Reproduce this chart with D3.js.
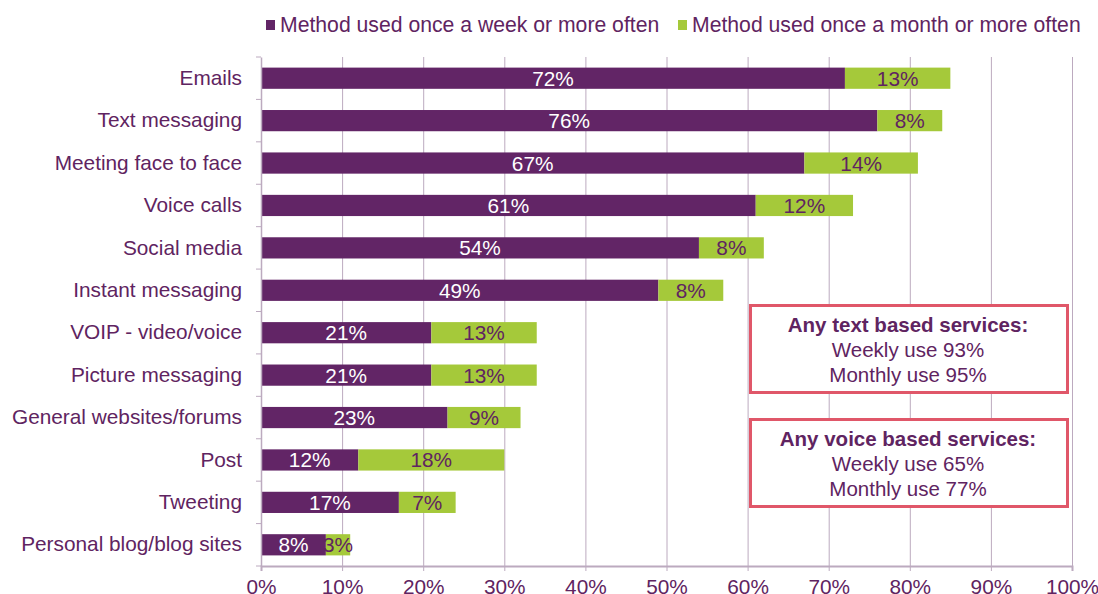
<!DOCTYPE html>
<html><head><meta charset="utf-8">
<script src="https://cdn.jsdelivr.net/npm/d3@7"></script>
<style>body{margin:0;background:#fff;} svg{display:block;font-family:"Liberation Sans",Arial,sans-serif;}</style>
</head><body><svg id="c" width="1098" height="594"></svg>
<script>
const categories = ["Emails","Text messaging","Meeting face to face","Voice calls","Social media","Instant messaging","VOIP - video/voice","Picture messaging","General websites/forums","Post","Tweeting","Personal blog/blog sites"];
const weekly = [72,76,67,61,54,49,21,21,23,12,17,8];
const monthly = [13,8,14,12,8,8,13,13,9,18,7,3];
const seriesNames = ["Method used once a week or more often","Method used once a month or more often"];
const xTicks = [0,10,20,30,40,50,60,70,80,90,100];
const boxes = [
  {title:"Any text based services:", lines:["Weekly use 93%","Monthly use 95%"]},
  {title:"Any voice based services:", lines:["Weekly use 65%","Monthly use 77%"]}
];

const purple="#622566", green="#a5c93a", textCol="#5f2461", gridCol="#bcaabf";
const FS=20.8;
const svg=d3.select("#c");
const L=261,R=1072,T=57,B=566;
const x=d3.scaleLinear().domain([0,100]).range([L,R]);
const y=d3.scaleBand().domain(categories).range([T,B]).paddingInner(0.5).paddingOuter(0.25);

// grid
svg.append("g").selectAll("line").data(xTicks.slice(1)).join("line")
  .attr("x1",d=>x(d)+0.5).attr("x2",d=>x(d)+0.5).attr("y1",T).attr("y2",B)
  .attr("stroke",gridCol).attr("stroke-width",1);

// bars
const g=svg.append("g");
categories.forEach((c,i)=>{
  g.append("rect").attr("x",x(0)).attr("y",y(c)).attr("width",x(weekly[i])-x(0)).attr("height",y.bandwidth()).attr("fill",purple);
  g.append("rect").attr("x",x(weekly[i])).attr("y",y(c)).attr("width",x(weekly[i]+monthly[i])-x(weekly[i])).attr("height",y.bandwidth()).attr("fill",green);
  g.append("text").attr("x",(x(0)+x(weekly[i]))/2).attr("y",y(c)+y.bandwidth()/2).attr("dy","0.36em")
    .attr("text-anchor","middle").attr("fill","#fff").attr("font-size",FS).text(weekly[i]+"%");
  g.append("text").attr("x",(x(weekly[i])+x(weekly[i]+monthly[i]))/2).attr("y",y(c)+y.bandwidth()/2).attr("dy","0.36em")
    .attr("text-anchor","middle").attr("fill",textCol).attr("font-size",FS).text(monthly[i]+"%");
});

// x axis
const xa=svg.append("g").attr("transform",`translate(0,${B})`).call(d3.axisBottom(x).tickValues(xTicks).tickFormat(d=>d+"%").tickSize(5));
xa.select(".domain").attr("stroke",gridCol).attr("stroke-width",2);
xa.selectAll(".tick line").attr("stroke",gridCol);
xa.selectAll(".tick text").attr("fill",textCol).attr("font-size",FS).attr("font-family","Liberation Sans, Arial, sans-serif").attr("y",13);

// y axis
const ya=svg.append("g").attr("transform",`translate(${L},0)`).call(d3.axisLeft(y).tickSize(0).tickPadding(19));
ya.select(".domain").attr("stroke",gridCol).attr("stroke-width",1.5);
ya.selectAll(".tick text").attr("fill",textCol).attr("font-size",FS).attr("font-family","Liberation Sans, Arial, sans-serif");
const sepY=d3.range(categories.length+1).map(i=>T+i*(B-T)/categories.length);
ya.append("g").selectAll("line").data(sepY).join("line")
  .attr("x1",-5).attr("x2",0).attr("y1",d=>d).attr("y2",d=>d).attr("stroke",gridCol);

// legend
const leg=svg.append("g");
const legX=[266,678];
seriesNames.forEach((n,i)=>{
  leg.append("rect").attr("x",legX[i]).attr("y",20).attr("width",9).attr("height",10).attr("fill",i?green:purple);
  leg.append("text").attr("x",legX[i]+14).attr("y",32).attr("fill",textCol).attr("font-size",21.2).text(n);
});

// boxes
const boxY=[304,418];
boxes.forEach((b,i)=>{
  const bg=svg.append("g");
  bg.append("rect").attr("x",750.5).attr("y",boxY[i]+1.5).attr("width",317).attr("height",87).attr("fill","#fff").attr("stroke","#e05769").attr("stroke-width",3);
  bg.append("text").attr("x",908).attr("y",boxY[i]+28).attr("text-anchor","middle").attr("fill",textCol).attr("font-size",20.5).attr("font-weight","bold").text(b.title);
  b.lines.forEach((l,j)=>bg.append("text").attr("x",908).attr("y",boxY[i]+53+j*25).attr("text-anchor","middle").attr("fill",textCol).attr("font-size",20.5).text(l));
});
</script></body></html>
